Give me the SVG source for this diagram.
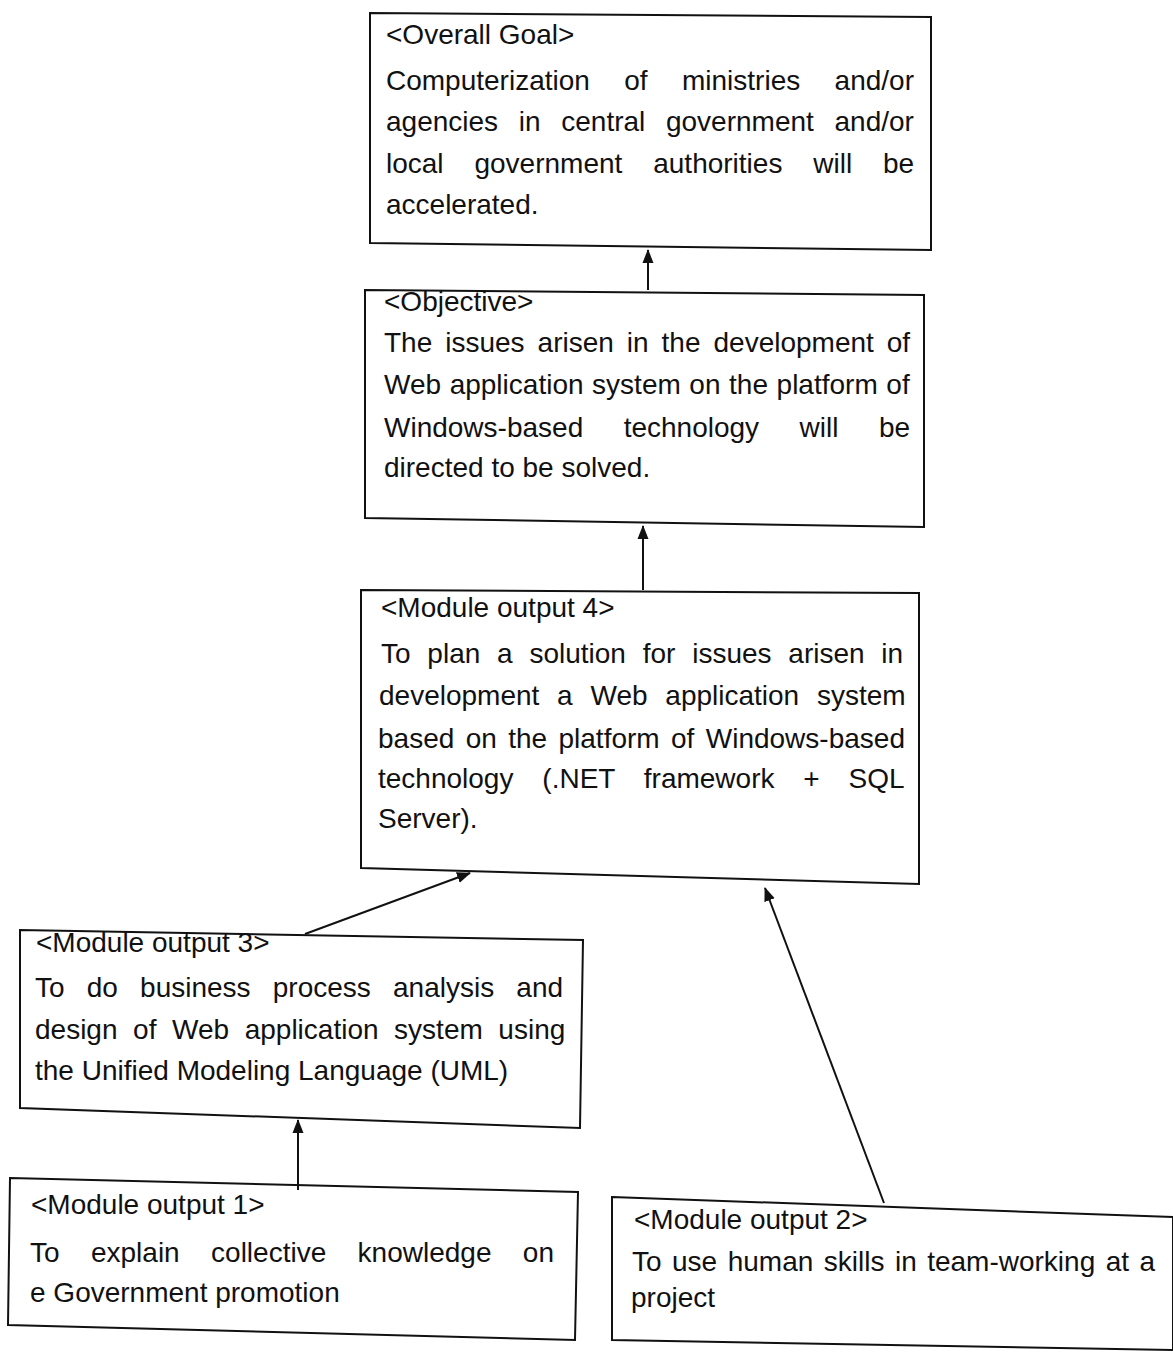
<svg xmlns="http://www.w3.org/2000/svg" width="1173" height="1359" viewBox="0 0 1173 1359">
<style>
.box{fill:#fff;stroke:#111;stroke-width:2}
.t{font-family:"Liberation Sans",Arial,sans-serif;font-size:28px;fill:#111}
.c{stroke:#111;stroke-width:2;fill:none}
</style>
<defs>
<marker id="ah" viewBox="0 0 14 12" refX="13" refY="6" markerWidth="14" markerHeight="12" markerUnits="userSpaceOnUse" orient="auto">
<path d="M0,0.5 L14,6 L0,11.5 Z" fill="#111"/>
</marker>
</defs>
<rect width="1173" height="1359" fill="#fff"/>
<g id="goal">
<path class="box" d="M370,13 L931,17 L931,250 L370,243 Z"/>
<text class="t" x="386" y="44">&lt;Overall Goal&gt;</text>
<text class="t" x="386" y="90" word-spacing="26.6">Computerization of ministries and/or</text>
<text class="t" x="386" y="131" word-spacing="12.9">agencies in central government and/or</text>
<text class="t" x="386" y="173" word-spacing="23.1">local government authorities will be</text>
<text class="t" x="386" y="214">accelerated.</text>
</g>
<g id="objective">
<path class="box" d="M365,290 L924,295 L924,527 L365,518 Z"/>
<text class="t" x="384" y="311">&lt;Objective&gt;</text>
<text class="t" x="384" y="352" word-spacing="5.2">The issues arisen in the development of</text>
<text class="t" x="384" y="394" word-spacing="0.8">Web application system on the platform of</text>
<text class="t" x="384" y="437" word-spacing="32.7">Windows-based technology will be</text>
<text class="t" x="384" y="477">directed to be solved.</text>
</g>
<g id="m4">
<path class="box" d="M361,590 L919,593 L919,884 L361,868 Z"/>
<text class="t" x="381" y="617">&lt;Module output 4&gt;</text>
<text class="t" x="381" y="663" word-spacing="9.0">To plan a solution for issues arisen in</text>
<text class="t" x="379" y="705" word-spacing="10">development a Web application system</text>
<text class="t" x="378" y="748" word-spacing="3.6">based on the platform of Windows-based</text>
<text class="t" x="378" y="788" word-spacing="21.1">technology (.NET framework + SQL</text>
<text class="t" x="378" y="828">Server).</text>
</g>
<g id="m3">
<path class="box" d="M20,930 L583,940 L580,1128 L20,1108 Z"/>
<text class="t" x="36" y="952">&lt;Module output 3&gt;</text>
<text class="t" x="35" y="997" word-spacing="14.4">To do business process analysis and</text>
<text class="t" x="35" y="1039" word-spacing="7.8">design of Web application system using</text>
<text class="t" x="35" y="1080">the Unified Modeling Language (UML)</text>
</g>
<g id="m1">
<path class="box" d="M10,1178 L578,1192 L575,1340 L8,1325 Z"/>
<text class="t" x="31" y="1214">&lt;Module output 1&gt;</text>
<text class="t" x="30" y="1262" word-spacing="23.6">To explain collective knowledge on</text>
<text class="t" x="30" y="1302">e Government promotion</text>
</g>
<g id="m2">
<path class="box" d="M612,1197 L1173,1217 L1173,1350 L612,1340 Z"/>
<text class="t" x="634" y="1229">&lt;Module output 2&gt;</text>
<text class="t" x="632" y="1271" word-spacing="2.7">To use human skills in team-working at a</text>
<text class="t" x="631" y="1307">project</text>
</g>
<g id="connectors">
<line class="c" x1="648" y1="290" x2="648" y2="250" marker-end="url(#ah)"/>
<line class="c" x1="643" y1="590" x2="643" y2="526" marker-end="url(#ah)"/>
<line class="c" x1="305" y1="934" x2="470" y2="873" marker-end="url(#ah)"/>
<line class="c" x1="884" y1="1203" x2="765" y2="888" marker-end="url(#ah)"/>
<line class="c" x1="298" y1="1190" x2="298" y2="1120" marker-end="url(#ah)"/>
</g>
</svg>
